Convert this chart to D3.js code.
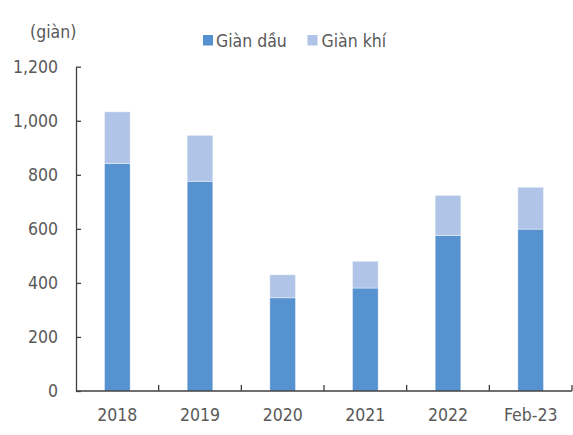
<!DOCTYPE html>
<html>
<head>
<meta charset="utf-8">
<script src="https://cdn.jsdelivr.net/npm/d3@7"></script>
<style>
  html, body { margin: 0; padding: 0; background: #fff; }
  svg text { font-family: "DejaVu Sans Condensed", "DejaVu Sans", sans-serif; font-stretch: condensed; fill: #595959; }
</style>
</head>
<body>
<svg id="chart" width="573" height="435"></svg>
<script>
// Số lượng giàn khoan theo năm
const categories = ["2018", "2019", "2020", "2021", "2022", "Feb-23"];
const oilRigs = [842, 776, 345, 381, 575, 599];
const gasRigs = [191, 170, 85, 99, 149, 155];
const seriesNames = ["Giàn dầu", "Giàn khí"];
const yTicks = [0, 200, 400, 600, 800, 1000, 1200];
const unitLabel = "(giàn)";

const colors = ["#5592CF", "#AFC4E6"];

const svg = d3.select("#chart");
const margin = { left: 76, right: 1, top: 66.7, bottom: 44 };
const W = 573, H = 435;

const x = d3.scaleBand()
  .domain(categories)
  .range([margin.left, W - margin.right])
  .paddingInner(0.69)
  .paddingOuter(0.345);

const y = d3.scaleLinear()
  .domain([0, 1200])
  .range([H - margin.bottom, margin.top]);

const rows = categories.map((c, i) => ({ cat: c, oil: oilRigs[i], gas: gasRigs[i] }));
const stacked = d3.stack().keys(["oil", "gas"])(rows);

// Cột chồng
svg.append("g").selectAll("g")
  .data(stacked)
  .join("g")
  .attr("fill", (d, i) => colors[i])
  .selectAll("rect")
  .data(d => d)
  .join("rect")
  .attr("x", d => x(d.data.cat))
  .attr("width", x.bandwidth())
  .attr("y", d => y(d[1]))
  .attr("height", d => y(d[0]) - y(d[1]))
  .attr("stroke", "#ffffff")
  .attr("stroke-opacity", 0.5)
  .attr("stroke-width", 0.8);

// Trục tung
const yAxis = d3.axisLeft(y)
  .tickValues(yTicks)
  .tickFormat(d3.format(","))
  .tickSizeInner(-5)
  .tickSizeOuter(0)
  .tickPadding(18);

const gy = svg.append("g")
  .attr("transform", `translate(${margin.left},0)`)
  .call(yAxis);
gy.select(".domain").attr("stroke", "#404040").attr("stroke-width", 1.3);
gy.selectAll(".tick line").attr("stroke", "#404040").attr("stroke-width", 1.3);
gy.selectAll(".tick text").attr("font-size", 17.5).attr("fill", "#595959");

// Trục hoành
const x0 = margin.left, x1 = W - margin.right, yBase = y(0);
const xAxis = svg.append("g");
xAxis.append("line")
  .attr("x1", x0).attr("x2", x1)
  .attr("y1", yBase).attr("y2", yBase)
  .attr("stroke", "#404040").attr("stroke-width", 1.3);
const step = x.step();
const boundaries = categories.map((c, i) => x0 + (i + 1) * ((x1 - x0) / categories.length));
xAxis.selectAll("line.tk")
  .data(boundaries)
  .join("line")
  .attr("class", "tk")
  .attr("x1", d => d).attr("x2", d => d)
  .attr("y1", yBase).attr("y2", yBase - 6)
  .attr("stroke", "#404040").attr("stroke-width", 1.3);
xAxis.selectAll("text")
  .data(categories)
  .join("text")
  .attr("x", d => x(d) + x.bandwidth() / 2)
  .attr("y", yBase + 30)
  .attr("text-anchor", "middle")
  .attr("font-size", 17.5)
  .text(d => d);

// Đơn vị
svg.append("text")
  .attr("x", 30)
  .attr("y", 37.5)
  .attr("font-size", 17.5)
  .text(unitLabel);

// Chú giải
const legendItems = [
  { name: seriesNames[0], color: colors[0], sx: 203, tx: 216 },
  { name: seriesNames[1], color: colors[1], sx: 307.5, tx: 321.5 }
];
const lg = svg.append("g");
legendItems.forEach(it => {
  lg.append("rect")
    .attr("x", it.sx).attr("y", 35)
    .attr("width", 10).attr("height", 10.5)
    .attr("fill", it.color);
  lg.append("text")
    .attr("x", it.tx).attr("y", 46.5)
    .attr("font-size", 17.5)
    .text(it.name);
});
</script>
</body>
</html>
